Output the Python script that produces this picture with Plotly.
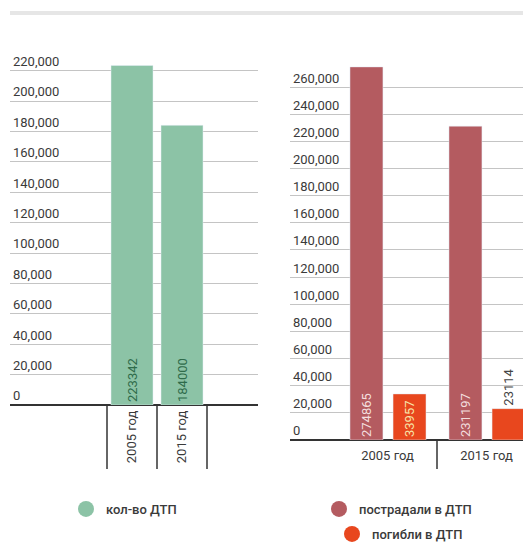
import plotly.graph_objects as go

# ---- data ----
years = ["2005 год", "2015 год"]
accidents = [223342, 184000]
injured = [274865, 231197]
killed = [33957, 23114]

name_acc = "кол-во ДТП"
name_inj = "пострадали в ДТП"
name_kil = "погибли в ДТП"

left_ticks = list(range(0, 220001, 20000))
right_ticks = list(range(0, 260001, 20000))

# page body has an 8px margin, so the figure is placed at (8, 8)
OFF = 8
W, H = 531 - OFF, 544 - OFF
FONT = "Roboto"
GREEN = "#8cc3a6"
RED = "#b45b60"
ORANGE = "#e8471e"
GRID = "#c4c4c4"
TXT = "#3a3a3a"


def px_x(p):
    return (p - OFF) / W


def px_y(p):
    return 1 - (p - OFF) / H


fig = go.Figure()

# left chart
fig.add_trace(go.Bar(
    x=years, y=accidents, xaxis="x", yaxis="y", marker_color=GREEN,
    width=0.84, text=[str(v) for v in accidents], textposition="inside",
    insidetextanchor="start", textangle=-90,
    textfont=dict(family=FONT, size=13, color="#2f6b4a"),
    showlegend=False, cliponaxis=False,
))
# right chart
fig.add_trace(go.Bar(
    x=years, y=injured, xaxis="x2", yaxis="y2", marker_color=RED,
    width=0.333, offset=-0.379, text=[str(v) for v in injured],
    textposition="inside", insidetextanchor="start", textangle=-90,
    textfont=dict(family=FONT, size=13, color="#f3dede"),
    showlegend=False,
))
fig.add_trace(go.Bar(
    x=years, y=killed, xaxis="x2", yaxis="y2", marker_color=ORANGE,
    width=0.333, offset=0.056, text=[str(v) for v in killed],
    textposition=["inside", "outside"], insidetextanchor="start", textangle=-90,
    insidetextfont=dict(family=FONT, size=13, color="#f7e3a8"),
    outsidetextfont=dict(family=FONT, size=13, color="#444444"),
    constraintext="none",
    showlegend=False, cliponaxis=False,
))

# legend entries
for nm, col, lg in [(name_acc, GREEN, "legend"), (name_inj, RED, "legend2"), (name_kil, ORANGE, "legend3")]:
    fig.add_trace(go.Scatter(
        x=[None], y=[None], mode="markers", name=nm, legend=lg,
        marker=dict(symbol="circle", size=16, color=col),
        xaxis="x", yaxis="y", showlegend=True,
    ))

# invisible helpers for separator axes
fig.add_trace(go.Scatter(x=[None], y=[None], xaxis="x3", yaxis="y", showlegend=False))
fig.add_trace(go.Scatter(x=[None], y=[None], xaxis="x4", yaxis="y2", showlegend=False))

left_range = [(10 - 132) / 50, (258 - 132) / 50]
right_range = [(290 - 387.5) / 99, (531 - 387.5) / 99]

LTOP = 234000
RTOP = 282000

common_y = dict(
    showgrid=True, gridcolor=GRID, gridwidth=1.3,
    zeroline=True, zerolinecolor="#333333", zerolinewidth=2,
    ticklabelposition="inside top", ticks="", showline=False,
    tickformat=",d", tickfont=dict(family=FONT, size=13, color=TXT),
    automargin=False,
)

fig.update_layout(
    width=W, height=H,
    margin=dict(l=0, r=0, t=0, b=0, autoexpand=False),
    paper_bgcolor="white", plot_bgcolor="white",
    barmode="overlay",
    font=dict(family=FONT, size=13, color=TXT),
    xaxis=dict(
        domain=[px_x(10), px_x(258)], anchor="y", type="category",
        range=left_range, showgrid=False, zeroline=False, showline=False,
        ticks="", tickangle=-90, ticklabelstandoff=2, automargin=False,
        tickfont=dict(family=FONT, size=13, color=TXT),
    ),
    xaxis3=dict(
        overlaying="x", anchor="y", type="linear", range=left_range,
        showgrid=False, zeroline=False, showline=False, showticklabels=False,
        tickmode="array", tickvals=[-0.5, 0.5, 1.5], ticks="outside",
        ticklen=63, tickwidth=1.5, tickcolor="#666666", automargin=False,
    ),
    yaxis=dict(
        domain=[px_y(405), px_y(405 - LTOP / 20000 * 30.4)], anchor="x",
        range=[0, LTOP], tickvals=left_ticks, **common_y,
    ),
    xaxis2=dict(
        domain=[px_x(290), 1.0], anchor="y2", type="category",
        range=right_range, showgrid=False, zeroline=False, showline=False,
        ticks="", ticklabelstandoff=6, automargin=False,
        tickfont=dict(family=FONT, size=13, color=TXT),
    ),
    xaxis4=dict(
        overlaying="x2", anchor="y2", type="linear", range=right_range,
        showgrid=False, zeroline=False, showline=False, showticklabels=False,
        tickmode="array", tickvals=[-0.5, 0.5, 1.5], ticks="outside",
        ticklen=28, tickwidth=1.5, tickcolor="#666666", automargin=False,
    ),
    yaxis2=dict(
        domain=[px_y(440), px_y(440 - RTOP / 20000 * 27.15)], anchor="x2",
        range=[0, RTOP], tickvals=right_ticks, **common_y,
    ),
    legend=dict(
        x=px_x(66), y=px_y(494), xanchor="left", yanchor="top",
        bgcolor="rgba(0,0,0,0)", font=dict(family=FONT, size=13, color=TXT, weight=500),
    ),
    legend2=dict(
        x=px_x(319), y=px_y(494), xanchor="left", yanchor="top",
        bgcolor="rgba(0,0,0,0)", font=dict(family=FONT, size=13, color=TXT, weight=500),
    ),
    legend3=dict(
        x=px_x(332), y=px_y(519), xanchor="left", yanchor="top",
        bgcolor="rgba(0,0,0,0)", font=dict(family=FONT, size=13, color=TXT, weight=500),
    ),
    shapes=[dict(
        type="rect", xref="paper", yref="paper",
        x0=px_x(10), x1=1.0, y0=px_y(15), y1=px_y(11),
        fillcolor="#e6e6e6", line=dict(width=0),
    )],
)

fig.write_html("out.html")
